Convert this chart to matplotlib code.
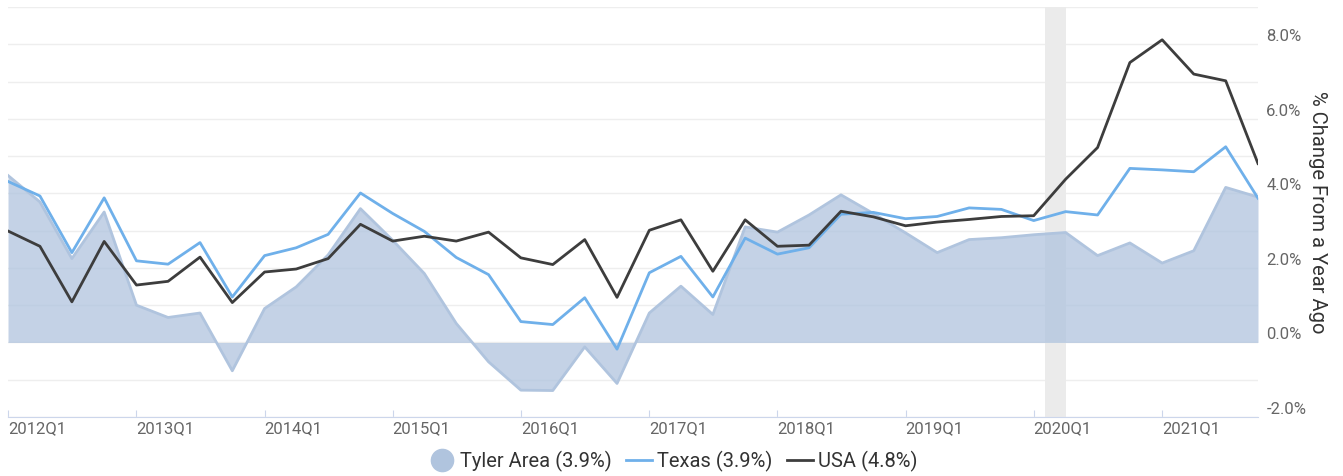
import matplotlib
matplotlib.use('Agg')
import matplotlib.pyplot as plt
from matplotlib.lines import Line2D
import numpy as np
import pandas as pd

plt.rcParams['font.family'] = ['Roboto', 'DejaVu Sans']

# quarterly % change from a year ago, 2012Q1 .. 2021Q4
quarters = pd.period_range('2012Q1', '2021Q4', freq='Q')
tyler = [4.48, 3.77, 2.25, 3.50, 1.00, 0.67, 0.79, -0.76, 0.91, 1.49,
         2.35, 3.59, 2.74, 1.85, 0.51, -0.52, -1.28, -1.29, -0.12, -1.10,
         0.79, 1.51, 0.75, 3.10, 2.96, 3.42, 3.96, 3.46, 2.94, 2.41,
         2.76, 2.81, 2.89, 2.95, 2.33, 2.67, 2.13, 2.46, 4.16, 3.90]
texas = [4.32, 3.93, 2.41, 3.88, 2.19, 2.10, 2.68, 1.22, 2.33, 2.54,
         2.90, 4.01, 3.46, 2.98, 2.28, 1.82, 0.56, 0.48, 1.20, -0.18,
         1.87, 2.31, 1.22, 2.80, 2.37, 2.54, 3.44, 3.49, 3.32, 3.38,
         3.61, 3.57, 3.27, 3.51, 3.42, 4.67, 4.63, 4.58, 5.25, 3.87]
usa = [2.99, 2.58, 1.09, 2.71, 1.54, 1.64, 2.29, 1.07, 1.89, 1.97,
       2.25, 3.17, 2.72, 2.85, 2.72, 2.96, 2.27, 2.09, 2.76, 1.21,
       3.01, 3.29, 1.91, 3.29, 2.58, 2.61, 3.52, 3.37, 3.13, 3.23,
       3.30, 3.38, 3.40, 4.38, 5.23, 7.51, 8.12, 7.20, 7.02, 4.80]
recession = ('2020-02-01', '2020-04-01')
legend_labels = ['Tyler Area (3.9%)', 'Texas (3.9%)', 'USA (4.8%)']
year_ticks = [f'{y}Q1' for y in range(2012, 2022)]

dates = quarters.to_timestamp()
tick_dates = pd.PeriodIndex(year_ticks, freq='Q').to_timestamp()

fig = plt.figure(figsize=(13.43, 4.76), dpi=100)
ax = fig.add_axes([8 / 1343, 1 - 417 / 476, 1250 / 1343, 410 / 476])

ax.axvspan(pd.Timestamp(recession[0]), pd.Timestamp(recession[1]),
           color='#ebebeb', zorder=1, lw=0)

ax.fill_between(dates, tyler, 0, color='#b0c4de', alpha=0.75, lw=0, zorder=2)
ax.plot(dates, tyler, color='#b0c4de', lw=2, zorder=3)
ax.plot(dates, texas, color='#6fb0ea', lw=2, zorder=4)
ax.plot(dates, usa, color='#3d3d3d', lw=2, zorder=5)

ax.set_xlim(dates[0], dates[-1])
ax.set_ylim(-2, 9)

# grid every 1%, labels every 2%
yt = np.arange(-2, 10)
ax.set_yticks(yt)
ax.set_yticklabels([f'{v:.1f}%' if v % 2 == 0 and v < 9 else '' for v in yt])
ax.yaxis.tick_right()
ax.tick_params(axis='y', length=0, pad=6, labelsize=12, labelcolor='#666666')
for lbl in ax.get_yticklabels():
    lbl.set_verticalalignment('bottom')
ax.grid(axis='y', color='#eeeeee', lw=1, zorder=0)
ax.set_axisbelow(True)

ax.set_xticks(tick_dates)
ax.set_xticklabels(year_ticks)
ax.tick_params(axis='x', length=5, direction='in', color='#ccd6eb',
               labelsize=12, labelcolor='#666666', pad=3)
for lbl in ax.get_xticklabels():
    lbl.set_horizontalalignment('left')

for s in ['top', 'left', 'right']:
    ax.spines[s].set_visible(False)
ax.spines['bottom'].set_color('#ccd6eb')
ax.spines['bottom'].set_zorder(6)

ax.yaxis.set_label_position('right')
ax.set_ylabel('% Change From a Year Ago', rotation=270, labelpad=15,
              fontsize=14.5, color='#333333')

handles = [
    Line2D([], [], marker='o', ls='none', markersize=16, color='#b0c4de'),
    Line2D([], [], color='#6fb0ea', lw=2),
    Line2D([], [], color='#3d3d3d', lw=2),
]
fig.legend(handles, legend_labels, loc='center', bbox_to_anchor=(673 / 1343, 1 - 461 / 476),
           ncol=3, frameon=False, fontsize=14.5, handlelength=1.3, handletextpad=0.25,
           columnspacing=0.7, labelcolor='#333333')

fig.savefig('out.png', dpi=100)
